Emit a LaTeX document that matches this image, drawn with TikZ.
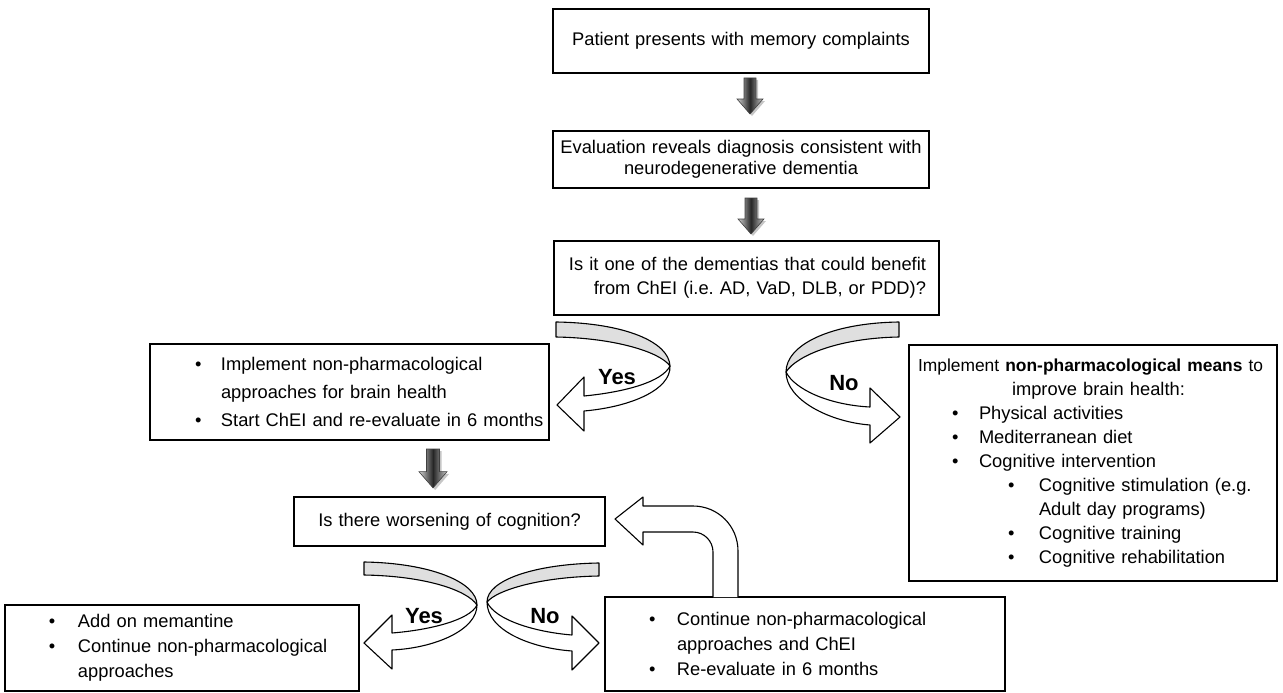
\documentclass[tikz,border=0pt]{standalone}
\usepackage{fontspec}
\setmainfont{Liberation Sans}
\frenchspacing
\newcommand\tline[2]{\hspace*{#1}\mbox{#2}}
\newcommand\bul[1]{\makebox[#1][l]{•}}
\tikzset{
  darrow/.pic={
    \fill[gray!45] (-4,2) -- (8,2) -- (8,23) -- (15,23) -- (2,38) -- (-11,23) -- (-4,23) -- cycle;
    \shade[left color=gray!35, right color=gray!45, middle color=black!85]
      (-6,0) -- (6,0) -- (6,21) -- (13,21) -- (0,36) -- (-13,21) -- (-6,21) -- cycle;
    \draw[black!75, line width=0.6pt, line join=miter]
      (-6,0) -- (6,0) -- (6,21) -- (13,21) -- (0,36) -- (-13,21) -- (-6,21) -- cycle;
  }
}
\begin{document}
\begin{tikzpicture}[x=1pt,y=-1pt,
  box/.style={draw=black, line width=1.1pt, inner xsep=0pt, inner ysep=0pt,
    font=\fontsize{18.3}{24}\selectfont},
  ribbon/.style={draw=black, line width=1.1pt, line join=round},
  band/.style={ribbon, fill=gray!25},
  front/.style={ribbon, fill=white},
  lbl/.style={font=\fontsize{22}{26}\selectfont\bfseries, inner sep=0pt}]
\useasboundingbox (0,0) rectangle (1283,693);

% boxes
\node[box, text width=376pt, minimum height=64pt, align=center] (b1) at (741,41)
  {Patient presents with memory complaints};
\node[box, text width=376pt, minimum height=57pt, align=center,
  font=\fontsize{18.3}{21}\selectfont] (b2) at (741,159.5)
  {Evaluation reveals diagnosis consistent with\\neurodegenerative dementia};
\node[box, text width=359pt, inner xsep=13pt, minimum height=74pt, align=right] (b3) at (746.5,278)
  {Is it one of the dementias that could benefit\\from ChEI (i.e. AD, VaD, DLB, or PDD)?};
\node[box, text width=399pt, minimum height=96pt, align=left,
  font=\fontsize{18.3}{28}\selectfont] (b4) at (349.5,392)
  {\tline{45pt}{\bul{26pt}Implement non-pharmacological}\\
   \tline{71pt}{approaches for brain health}\\
   \tline{45pt}{\bul{26pt}Start ChEI and re-evaluate in 6 months}};
\node[box, text width=311pt, minimum height=49pt, align=center] (b5) at (449.5,521.5)
  {Is there worsening of cognition?};
\node[box, text width=368pt, minimum height=236pt, align=left] (b6) at (1093,463)
  {\tline{9pt}{\fontsize{17.4}{24}\selectfont Implement \textbf{non-pharmacological means} to}\\
   \tline{103pt}{improve brain health:}\\
   \tline{43pt}{\bul{27pt}Physical activities}\\
   \tline{43pt}{\bul{27pt}Mediterranean diet}\\
   \tline{43pt}{\bul{27pt}Cognitive intervention}\\
   \tline{99pt}{\bul{31pt}Cognitive stimulation (e.g.}\\
   \tline{130pt}{Adult day programs)}\\
   \tline{99pt}{\bul{31pt}Cognitive training}\\
   \tline{99pt}{\bul{31pt}Cognitive rehabilitation}};
\node[box, text width=354pt, minimum height=86pt, align=left,
  font=\fontsize{18.3}{25}\selectfont] (b7) at (182,648)
  {\tline{44pt}{\bul{29pt}Add on memantine}\\
   \tline{44pt}{\bul{29pt}Continue non-pharmacological}\\
   \tline{73pt}{approaches}};
\node[box, text width=400pt, minimum height=94pt, align=left,
  font=\fontsize{18.3}{25}\selectfont] (b8) at (805,644)
  {\tline{44pt}{\bul{28pt}Continue non-pharmacological}\\
   \tline{72pt}{approaches and ChEI}\\
   \tline{44pt}{\bul{28pt}Re-evaluate in 6 months}};

% shaded down arrows
\pic at (750,78) {darrow};
\pic at (751,198) {darrow};
\pic[scale=1.08] at (433,449) {darrow};

% top Yes ribbon arrow
\draw[band] (556,322) .. controls (625,323) and (669,342) .. (670,366)
  .. controls (660,352) and (615,338) .. (556,337) -- cycle;
\draw[front] (670,366) .. controls (671,390) and (630,407) .. (584,411)
  -- (584,431) -- (557,405) -- (584,377) -- (584,396)
  .. controls (625,392) and (662,382) .. (670,366) -- cycle;
\node[lbl] (ly1) at (617,377) {Yes};

% top No ribbon arrow
\draw[band] (899,322) .. controls (830,323) and (786,345) .. (786,372)
  .. controls (797,355) and (840,338) .. (899,337) -- cycle;
\draw[front] (786,372) .. controls (786,400) and (830,422) .. (870,425)
  -- (870,443) -- (900,417) -- (870,388) -- (870,407)
  .. controls (830,405) and (795,390) .. (786,372) -- cycle;
\node[lbl] (ln1) at (844,383) {No};

% bottom Yes ribbon arrow
\draw[band] (364,562) .. controls (430,563) and (477,582) .. (477,605)
  .. controls (467,590) and (425,576) .. (364,575) -- cycle;
\draw[front] (477,605) .. controls (477,630) and (435,648) .. (392,650)
  -- (392,669) -- (364,643) -- (392,615) -- (392,633)
  .. controls (430,630) and (470,620) .. (477,605) -- cycle;
\node[lbl] (ly2) at (424,616) {Yes};

% bottom No ribbon arrow
\draw[band] (599,563) .. controls (535,564) and (487,580) .. (487,602)
  .. controls (497,590) and (540,577) .. (599,576) -- cycle;
\draw[front] (487,602) .. controls (487,630) and (530,648) .. (572,651)
  -- (572,670) -- (599,643) -- (572,616) -- (572,635)
  .. controls (535,632) and (495,620) .. (487,602) -- cycle;
\node[lbl] (ln2) at (545,616) {No};

% U-turn arrow from b8 back to b5
\draw[ribbon, fill=white] (713,597) -- (713,552)
  .. controls (713,541) and (704,532) .. (693,532)
  -- (643,532) -- (643,545) -- (615,519) -- (643,497) -- (643,506) -- (693,506)
  .. controls (718,506) and (738,526) .. (738,551) -- (738,597);
\end{tikzpicture}
\end{document}
